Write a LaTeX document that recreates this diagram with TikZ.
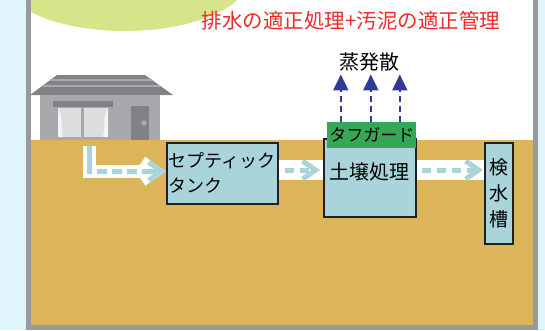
\documentclass[tikz,border=0pt]{standalone}
\usepackage{fontspec}
\setmainfont{Noto Sans CJK JP}
\usetikzlibrary{arrows.meta,positioning}

\definecolor{skyback}{HTML}{DFF5FB}
\definecolor{framegray}{HTML}{98999C}
\definecolor{soilbrown}{HTML}{DCB55A}
\definecolor{sunlime}{HTML}{D8E48A}
\definecolor{tankblue}{HTML}{A9D5DA}
\definecolor{boxline}{HTML}{231F20}
\definecolor{guardgreen}{HTML}{34A855}
\definecolor{titlered}{HTML}{EE2A2A}
\definecolor{vaporblue}{HTML}{2E3A94}
\definecolor{roofgray}{HTML}{808285}
\definecolor{wallgray}{HTML}{A7A9AC}
\definecolor{panegray}{HTML}{DCDDDE}

\begin{document}
\begin{tikzpicture}[x=1pt, y=-1pt,
  tank/.style={draw=boxline, line width=1.5pt, fill=tankblue, align=center, inner sep=0pt, anchor=north west},
  guard/.style={fill=guardgreen, inner sep=0pt, minimum width=89pt, minimum height=26pt, font=\fontsize{17}{17}\selectfont},
  band/.style={white, line width=20pt},
  flow/.style={tankblue, line width=5pt, dash pattern=on 9pt off 6pt, -{Straight Barb[length=13pt, width=18pt]}},
  vapor/.style={vaporblue, line width=2pt, dash pattern=on 6pt off 4pt, -{Triangle[length=16pt, width=15pt]}}
]
\useasboundingbox (0,0) rectangle (545,330);

% frame, sky and ground
\fill[skyback] (0,0) rectangle (545,330);
\fill[white] (28.5,0) rectangle (535.5,327.5);
\begin{scope}
  \clip (31,0) rectangle (533,140);
  \fill[sunlime] (125,-24) ellipse [x radius=125, y radius=55];
\end{scope}
\fill[soilbrown] (31,140) rectangle (533,325);
\draw[framegray, line width=5pt] (28.5,-5) -- (28.5,327.5) -- (535.5,327.5) -- (535.5,-5);

% house
\fill[roofgray] (57,75) -- (145,75) -- (173,95) -- (30,95) -- cycle;
\draw[wallgray, line width=1.3pt] (50,80) -- (152,80);
\draw[wallgray, line width=1.3pt] (42,86) -- (160,86);
\fill[wallgray] (40,95) rectangle (160,140);
\fill[roofgray] (53,101) rectangle (113,107);
\fill[roofgray!70] (56,107) rectangle (110,138);
\fill[panegray] (58,108) rectangle (81,137);
\fill[panegray] (84,108) rectangle (108,137);
\fill[white!92!gray] (58,108) .. controls (64,118) and (60,124) .. (63,137) -- (58,137) -- cycle;
\fill[white!92!gray] (108,108) .. controls (102,118) and (106,124) .. (103,137) -- (108,137) -- cycle;
\fill[roofgray] (131,106) rectangle (149,140);
\fill[wallgray] (144,123) circle (2.8);
\coordinate (drain) at (89,146);

% title
\node[text=titlered, font=\fontsize{20.5}{20.5}\selectfont] (title) at (351,21) {排水の適正処理+汚泥の適正管理};

% tanks
\node[tank, minimum width=111pt, minimum height=61pt, align=left, font=\fontsize{18}{25}\selectfont] (septic) at (166,142) {セプティック\\タンク};
\node[tank, minimum width=92pt, minimum height=78pt, text depth=13pt, font=\fontsize{20}{20}\selectfont] (soil) at (323,138) {土壌処理};
\node[tank, minimum width=28pt, minimum height=101pt, font=\fontsize{19}{26}\selectfont] (check) at (484,142) {検\\水\\槽};
\node[guard, anchor=north east] (guard) at ([yshift=16pt]soil.north east) {タフガード};
\node[font=\fontsize{20}{20}\selectfont, inner sep=3pt] (evap) at (369,62) {蒸発散};

% drain flow
\draw[white, line width=13pt, -{Straight Barb[length=13pt, width=18pt]}] (drain) |- ([yshift=2pt]septic.west);
\draw[flow, dash pattern=on 28pt off 5pt on 10pt off 5pt on 10pt off 5pt on 10pt off 5pt on 30pt] (drain) |- ([yshift=2pt]septic.west);
\draw[band] (septic.east |- 0,170) -- (soil.west |- 0,170);
\draw[flow, shorten <=6pt, shorten >=3pt] (septic.east |- 0,170) -- (soil.west |- 0,170);
\draw[band] (soil.east |- 0,170) -- (check.west |- 0,170);
\draw[flow, shorten <=5pt, shorten >=1pt] (soil.east |- 0,170) -- (check.west |- 0,170);

% evaporation
\draw[vapor] ([xshift=-31pt]guard.north) -- ([xshift=-31pt]guard.north |- evap.south);
\draw[vapor] ([xshift=-1pt]guard.north) -- ([xshift=-1pt]guard.north |- evap.south);
\draw[vapor] ([xshift=28pt]guard.north) -- ([xshift=28pt]guard.north |- evap.south);
\end{tikzpicture}
\end{document}
